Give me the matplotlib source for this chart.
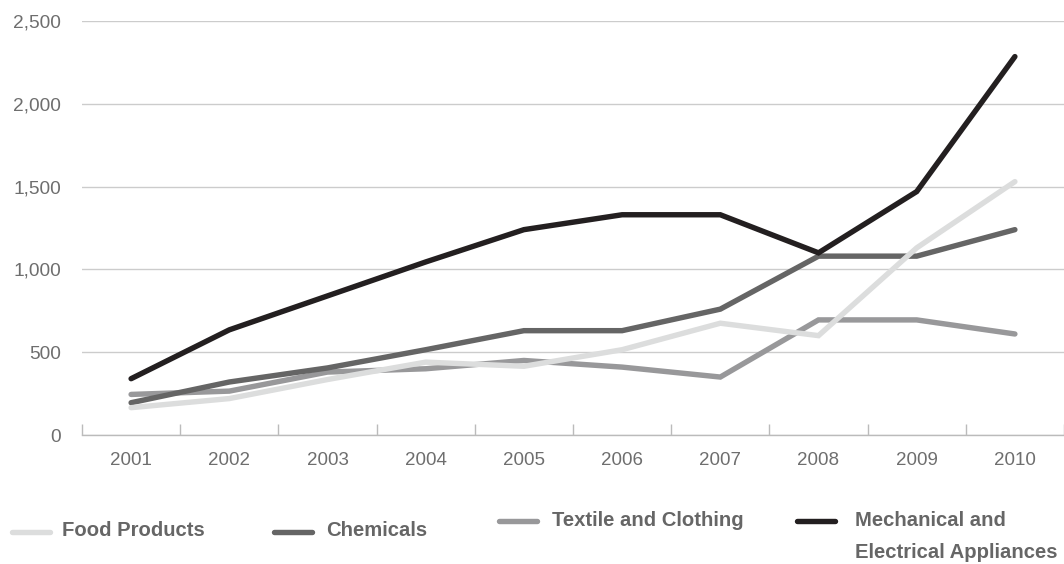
import matplotlib
matplotlib.use("Agg")
import matplotlib.pyplot as plt
from matplotlib.lines import Line2D
from matplotlib.ticker import FuncFormatter, FixedLocator

years = ["2001", "2002", "2003", "2004", "2005", "2006", "2007", "2008", "2009", "2010"]
food = [165, 220, 335, 440, 415, 515, 675, 600, 1130, 1530]
chemicals = [195, 320, 405, 515, 630, 630, 760, 1080, 1080, 1240]
textile = [245, 265, 380, 400, 450, 410, 350, 695, 695, 610]
mechanical = [340, 635, 840, 1045, 1240, 1330, 1330, 1100, 1470, 2285]

series_names = ["Food Products", "Chemicals", "Textile and Clothing",
                "Mechanical and Electrical Appliances"]
colors = {"food": "#dcdddd", "chem": "#656565", "tex": "#98989a", "mech": "#231f20"}

plt.rcParams['font.family'] = ['Liberation Sans', 'DejaVu Sans']

W, H = 1064, 564
fig = plt.figure(figsize=(W / 100, H / 100), dpi=100)
ax = fig.add_axes([82 / W, 1 - 435 / H, (W - 82) / W, (435 - 21) / H])

x = list(range(len(years)))
lw = 3.9
kw = dict(solid_capstyle='round', solid_joinstyle='miter', clip_on=False)
ax.plot(x, textile, color=colors["tex"], lw=lw, zorder=3, **kw)
ax.plot(x, chemicals, color=colors["chem"], lw=lw, zorder=4, **kw)
ax.plot(x, food, color=colors["food"], lw=lw, zorder=5, **kw)
ax.plot(x, mechanical, color=colors["mech"], lw=lw, zorder=6, **kw)

ax.set_xlim(-0.5, len(years) - 0.5)
ax.set_ylim(0, 2500)
ax.set_yticks([0, 500, 1000, 1500, 2000, 2500])
ax.yaxis.set_major_formatter(FuncFormatter(lambda v, p: f"{int(v):,}"))
ax.set_xticks(x)
ax.set_xticklabels(years)
ax.xaxis.set_minor_locator(FixedLocator([i - 0.5 for i in range(len(years) + 1)]))

for s in ["top", "right", "left"]:
    ax.spines[s].set_visible(False)
ax.spines["bottom"].set_color("#bbbbbb")
ax.spines["bottom"].set_linewidth(1.0)

ax.grid(axis='y', color='#cccccc', lw=1.0)
ax.set_axisbelow(True)
ax.tick_params(axis='y', length=0, pad=15, labelsize=13.8, labelcolor='#6e6e6e')
ax.tick_params(axis='x', which='major', length=0, pad=12.5, labelsize=13.5, labelcolor='#6e6e6e')
ax.tick_params(axis='x', which='minor', length=8, direction='in', color='#bbbbbb', width=1.0)

# legend
def handle(x0, y, color):
    fig.add_artist(Line2D([x0 / W, (x0 + 38) / W], [1 - y / H, 1 - y / H],
                          color=color, lw=lw, solid_capstyle='round'))

tkw = dict(fontsize=14.6, fontweight='bold', color='#666666', va='center', ha='left')
handle(12, 532, colors["food"])
fig.text(62 / W, 1 - 531 / H, series_names[0], **tkw)
handle(274, 532, colors["chem"])
fig.text(326 / W, 1 - 531 / H, series_names[1], **tkw)
handle(499, 521, colors["tex"])
fig.text(552 / W, 1 - 520 / H, series_names[2], **tkw)
handle(797, 521, colors["mech"])
fig.text(855 / W, 1 - 520 / H, "Mechanical and", **tkw)
fig.text(855 / W, 1 - 552 / H, "Electrical Appliances", **tkw)

fig.savefig("out.png", dpi=100)
